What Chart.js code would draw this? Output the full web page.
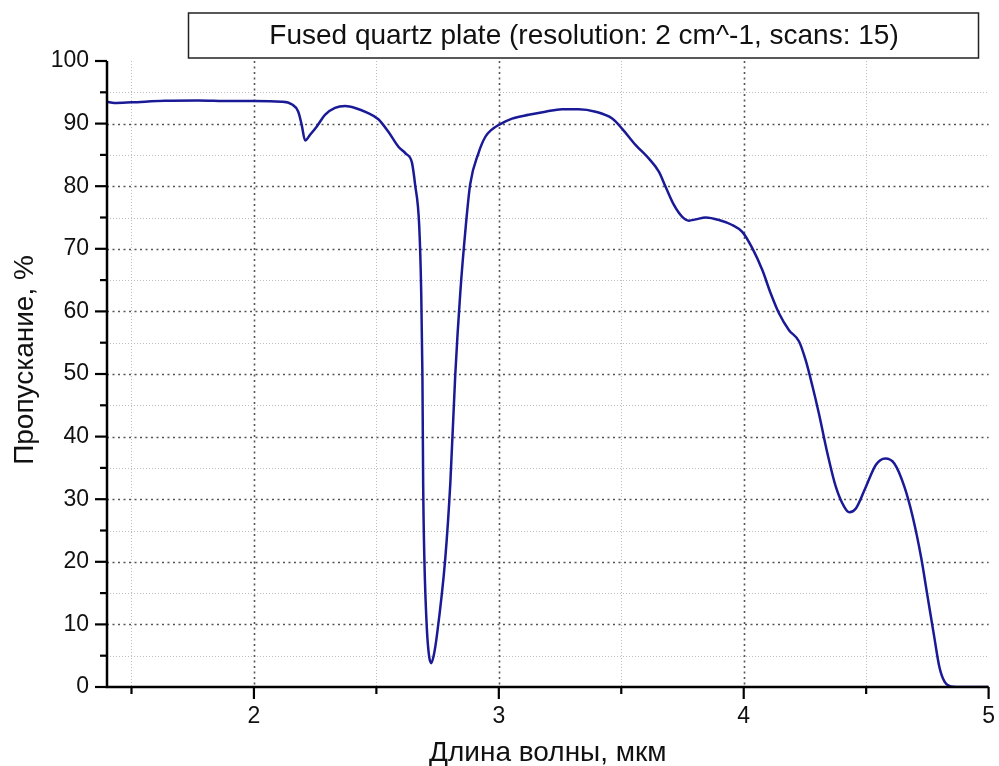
<!DOCTYPE html>
<html>
<head>
<meta charset="utf-8">
<script src="https://cdn.jsdelivr.net/npm/chart.js@4"></script>
<style>
  html, body { margin: 0; padding: 0; background: #fff; }
  #wrap { width: 999px; height: 766px; }
</style>
</head>
<body>
<div id="wrap"><canvas id="chart" width="999" height="766"></canvas></div>
<script>
const chartTitle = 'Fused quartz plate (resolution: 2 cm^-1, scans: 15)';
const xTitle = 'Длина волны, мкм';
const yTitle = 'Пропускание, %';

// длина волны, мкм
const wavelength = [
  1.40, 1.43, 1.50, 1.636, 1.772, 1.90, 2.00, 2.113, 2.154, 2.181, 2.195, 2.209,
  2.229, 2.256, 2.29, 2.331, 2.372, 2.413, 2.46, 2.508, 2.549, 2.59, 2.62, 2.645,
  2.658, 2.675, 2.683, 2.688, 2.691, 2.696, 2.706, 2.715, 2.724, 2.735, 2.747, 2.781,
  2.802, 2.822, 2.843, 2.865, 2.883, 2.917, 2.945, 2.97, 3.00, 3.054, 3.122, 3.19,
  3.258, 3.326, 3.395, 3.463, 3.503, 3.558, 3.613, 3.654, 3.681, 3.715, 3.749, 3.776,
  3.804, 3.845, 3.899, 3.953, 3.994, 4.035, 4.076, 4.11, 4.144, 4.185, 4.226, 4.253,
  4.281, 4.307, 4.342, 4.376, 4.41, 4.431, 4.458, 4.499, 4.54, 4.578, 4.615, 4.656,
  4.69, 4.724, 4.751, 4.778, 4.799, 4.82, 4.846, 4.90, 5.00
];
// пропускание, %
const transmission = [
  93.5, 93.3, 93.4, 93.65, 93.7, 93.6, 93.6, 93.5, 93.1, 91.9, 89.8, 87.3,
  88.2, 89.5, 91.4, 92.5, 92.8, 92.5, 91.8, 90.7, 88.7, 86.3, 85.2, 83.8,
  80.3, 73.6, 63.2, 49.8, 32.6, 20.4, 9.4, 5.0, 3.8, 5.2, 8.2, 20.4,
  32.6, 49.8, 63.2, 73.6, 80.3, 85.3, 87.9, 89.0, 89.8, 90.8, 91.4, 91.9,
  92.3, 92.3, 91.9, 90.8, 89.2, 86.6, 84.4, 82.3, 79.9, 77.0, 75.1, 74.5,
  74.7, 75.0, 74.6, 73.8, 72.7, 70.1, 66.6, 62.9, 59.7, 57.0, 55.2, 52.2,
  48.0, 43.7, 37.3, 32.0, 28.8, 27.9, 28.5, 32.0, 35.5, 36.5, 35.7, 32.0,
  27.2, 20.8, 14.4, 8.0, 3.2, 0.85, 0.1, 0, 0
];

const xTicks = [1.5, 2, 2.5, 3, 3.5, 4, 4.5, 5];
const yTicks = [0, 5, 10, 15, 20, 25, 30, 35, 40, 45, 50, 55, 60, 65, 70, 75, 80, 85, 90, 95, 100];

const FONT = '"Liberation Sans", Arial, sans-serif';

const points = wavelength.map((x, i) => ({ x: x, y: transmission[i] }));

const originPlugin = {
  id: 'originLook',
  beforeDatasetsDraw(chart) {
    const { ctx, chartArea: a, scales: { x, y } } = chart;
    ctx.save();
    // horizontal grid
    yTicks.forEach(v => {
      if (v === 0 || v === 100) return;
      const py = Math.round(y.getPixelForValue(v)) + 0.5;
      const major = v % 10 === 0;
      ctx.strokeStyle = major ? '#555' : '#bdbdbd';
      ctx.lineWidth = major ? 1.6 : 1;
      ctx.setLineDash(major ? [2, 3.5] : [1, 2]);
      ctx.beginPath();
      ctx.moveTo(a.left, py);
      ctx.lineTo(a.right, py);
      ctx.stroke();
    });
    // vertical grid
    xTicks.forEach(v => {
      if (v === 5) return;
      const px = Math.round(x.getPixelForValue(v)) + 0.5;
      const major = Number.isInteger(v);
      ctx.strokeStyle = major ? '#555' : '#bdbdbd';
      ctx.lineWidth = major ? 1.6 : 1;
      ctx.setLineDash(major ? [2, 3.5] : [1, 2]);
      ctx.beginPath();
      ctx.moveTo(px, a.top);
      ctx.lineTo(px, a.bottom);
      ctx.stroke();
    });
    ctx.restore();
  },
  afterDatasetsDraw(chart) {
    const { ctx, chartArea: a, scales: { x, y } } = chart;
    ctx.save();
    ctx.strokeStyle = '#000';
    ctx.lineWidth = 2.5;
    ctx.setLineDash([]);
    ctx.beginPath();
    ctx.moveTo(a.left, a.top);
    ctx.lineTo(a.left, a.bottom);
    ctx.lineTo(a.right, a.bottom);
    ctx.stroke();
    ctx.lineWidth = 2.2;
    yTicks.forEach(v => {
      const py = y.getPixelForValue(v);
      const len = v % 10 === 0 ? 12 : 7;
      ctx.beginPath();
      ctx.moveTo(a.left - len, py);
      ctx.lineTo(a.left, py);
      ctx.stroke();
    });
    xTicks.forEach(v => {
      const px = x.getPixelForValue(v);
      const len = Number.isInteger(v) ? 12 : 7;
      ctx.beginPath();
      ctx.moveTo(px, a.bottom);
      ctx.lineTo(px, a.bottom + len);
      ctx.stroke();
    });
    ctx.restore();
  },
  afterDraw(chart) {
    const { ctx, chartArea: a } = chart;
    ctx.save();
    // title box
    ctx.strokeStyle = '#222';
    ctx.lineWidth = 1.5;
    ctx.strokeRect(188.5, 13, 790, 45);
    ctx.fillStyle = '#111';
    ctx.font = '28px ' + FONT;
    ctx.textAlign = 'center';
    ctx.textBaseline = 'middle';
    ctx.fillText(chartTitle, 584, 36);
    // axis titles
    ctx.font = '28px ' + FONT;
    ctx.textBaseline = 'alphabetic';
    ctx.fillText(xTitle, (a.left + a.right) / 2, 761);
    ctx.translate(33, 360);
    ctx.rotate(-Math.PI / 2);
    ctx.fillText(yTitle, 0, 0);
    ctx.restore();
  }
};

new Chart(document.getElementById('chart').getContext('2d'), {
  type: 'line',
  data: {
    datasets: [{
      data: points,
      borderColor: '#1a1a96',
      borderWidth: 2.5,
      pointRadius: 0,
      fill: false,
      cubicInterpolationMode: 'monotone'
    }]
  },
  options: {
    responsive: false,
    animation: false,
    layout: { padding: { left: 0, right: 8, top: 61, bottom: 0 } },
    plugins: {
      legend: { display: false },
      tooltip: { enabled: false }
    },
    scales: {
      x: {
        type: 'linear',
        min: 1.4,
        max: 5,
        afterBuildTicks: s => { s.ticks = xTicks.map(v => ({ value: v })); },
        afterFit: s => { s.height = 79; },
        grid: { display: false, drawTicks: true, tickLength: 12 },
        border: { display: false },
        ticks: {
          autoSkip: false,
          maxRotation: 0,
          padding: 4,
          color: '#111',
          font: { family: FONT, size: 23 },
          callback: v => Number.isInteger(v) ? String(v) : ''
        }
      },
      y: {
        min: 0,
        max: 100,
        afterBuildTicks: s => { s.ticks = yTicks.map(v => ({ value: v })); },
        afterFit: s => { s.width = 107; },
        grid: { display: false, drawTicks: true, tickLength: 12 },
        border: { display: false },
        ticks: {
          autoSkip: false,
          padding: 6,
          color: '#111',
          font: { family: FONT, size: 23 },
          callback: v => v % 10 === 0 ? String(v) : ''
        }
      }
    }
  },
  plugins: [originPlugin]
});
</script>
</body>
</html>
